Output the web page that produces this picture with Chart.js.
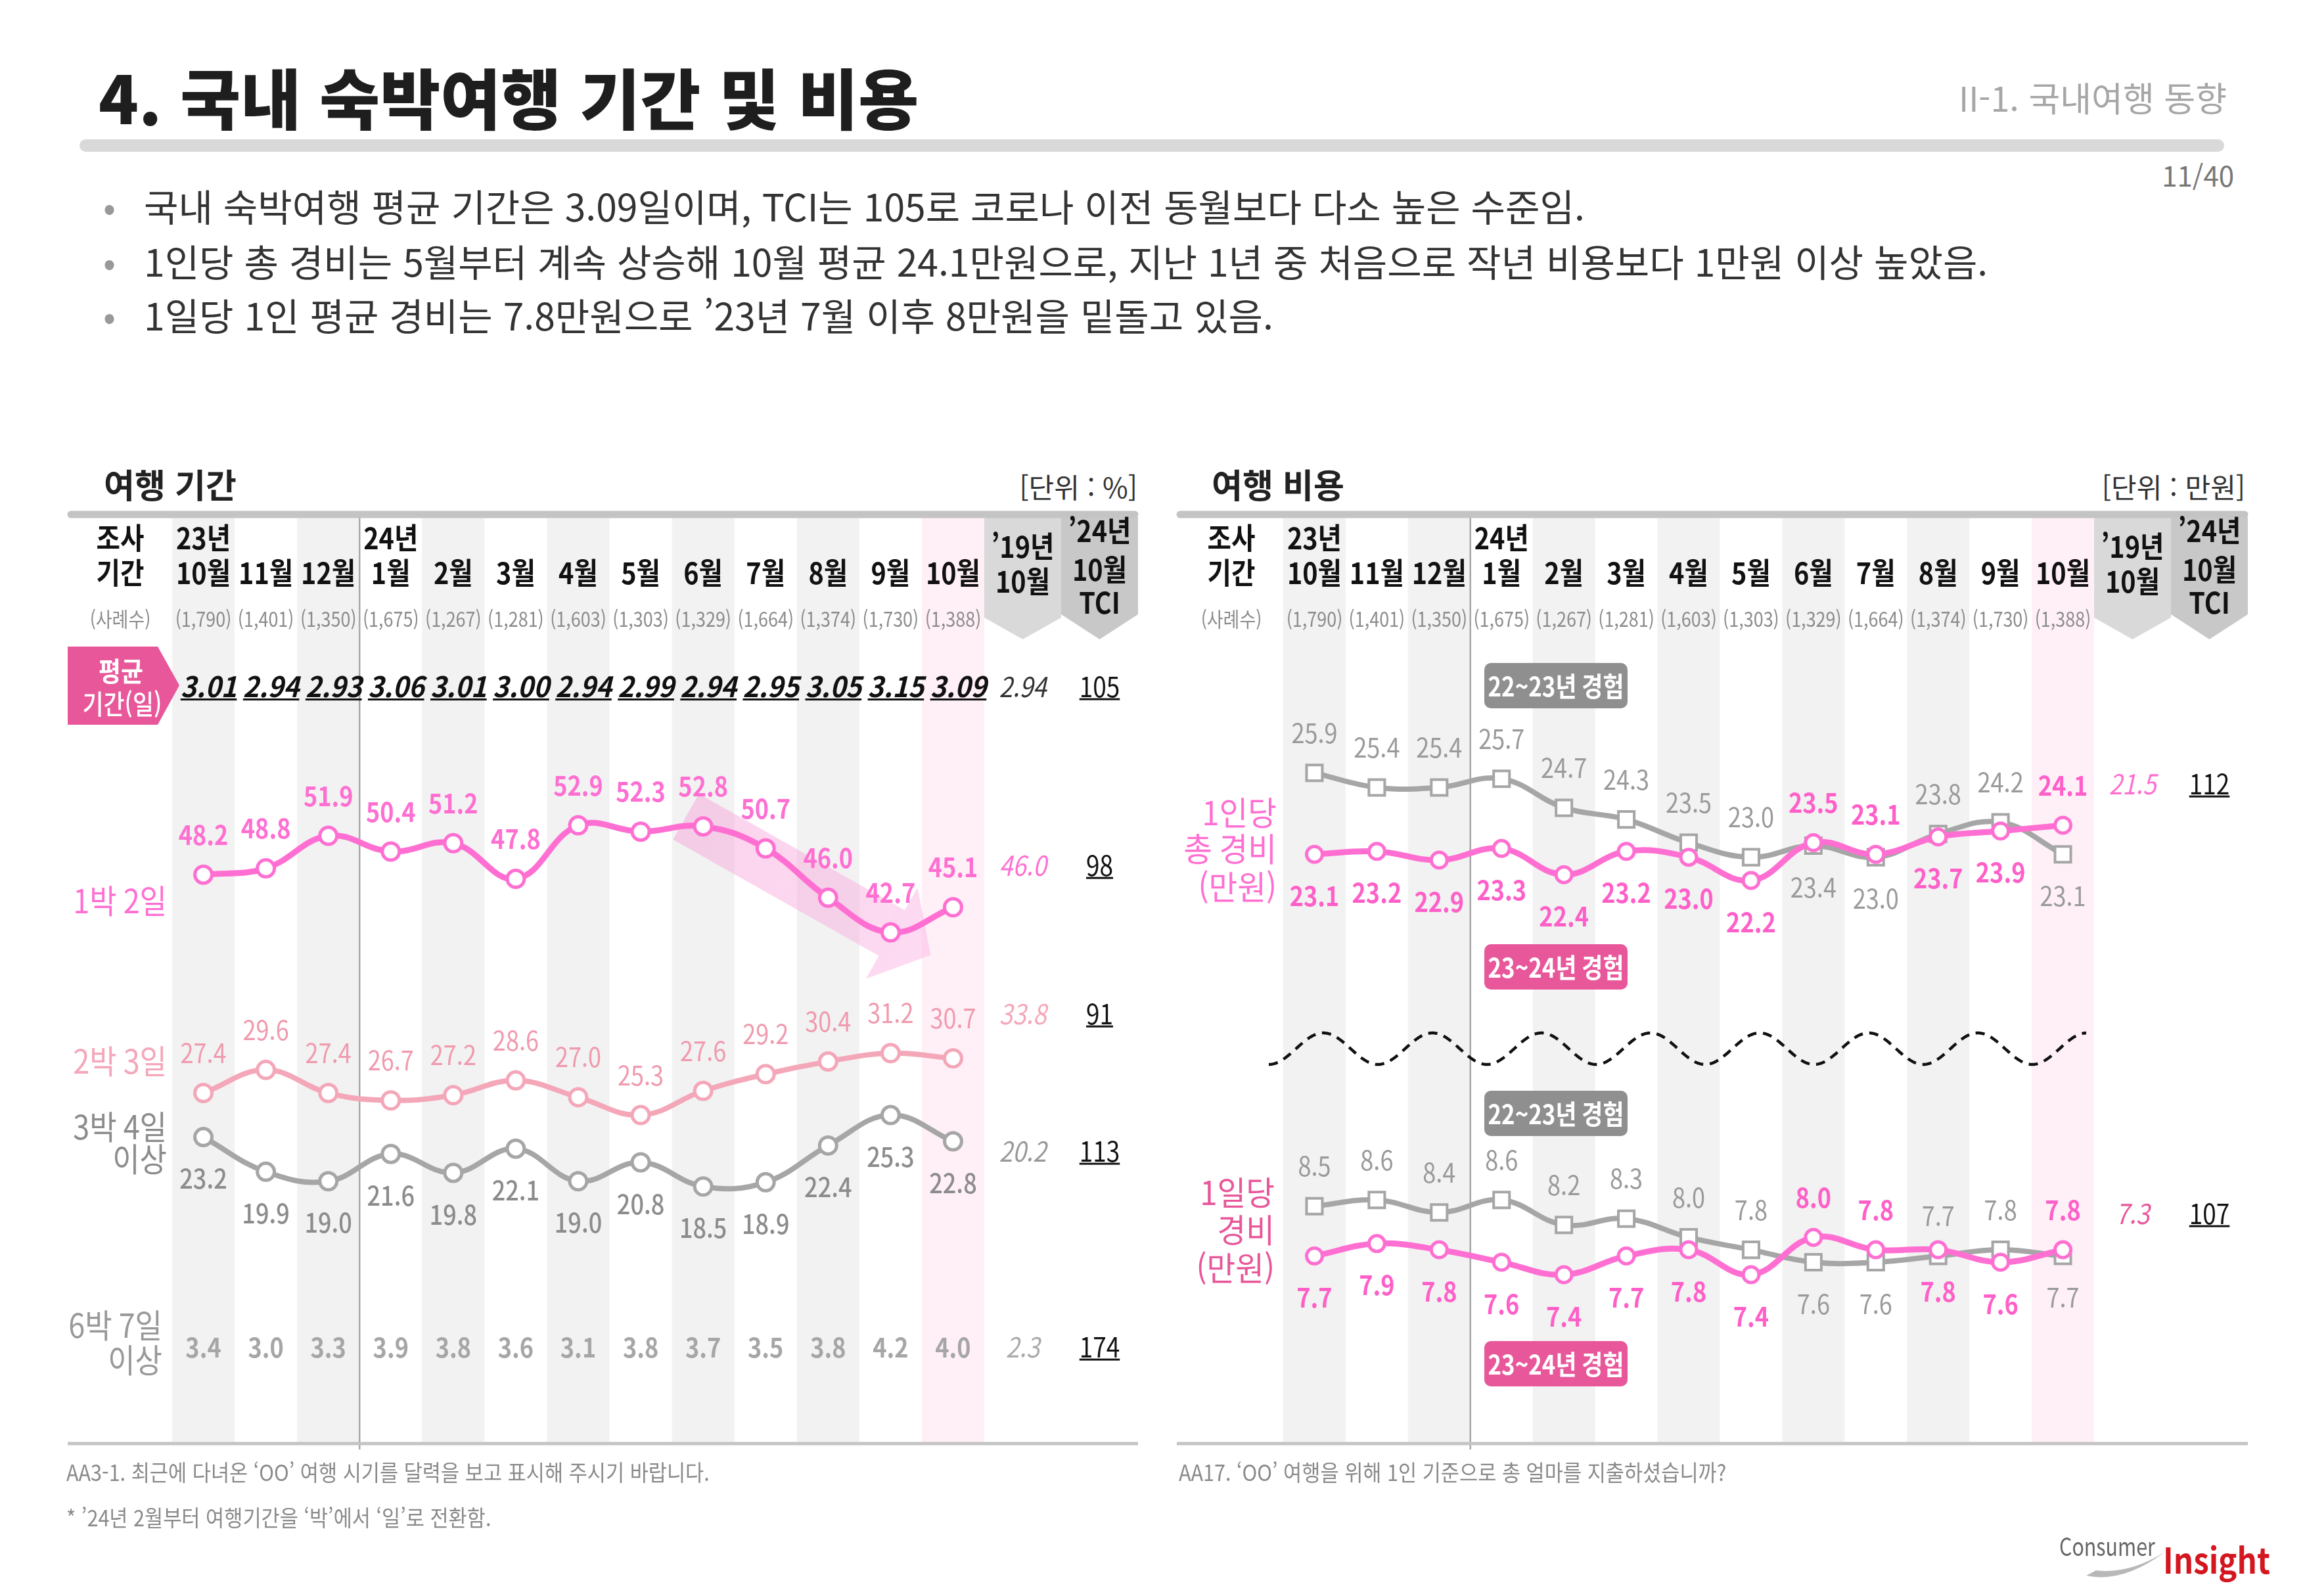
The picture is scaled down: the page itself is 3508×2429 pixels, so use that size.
<!DOCTYPE html>
<html lang="ko">
<head>
<meta charset="utf-8">
<title>국내 숙박여행 기간 및 비용</title>
<script src="https://cdn.jsdelivr.net/npm/chart.js@4.4.1/dist/chart.umd.min.js"></script>
<style>
  body { margin:0; width:3508px; height:2429px; position:relative; overflow:hidden; background:#fff;
         font-family:"Noto Sans CJK KR","Noto Sans",sans-serif; color:#222; }
  .t { position:absolute; line-height:1; white-space:nowrap; transform:translateY(-50%); }
  .fn { transform-origin:left center; transform:translateY(-50%) scaleX(0.9); color:#8a8a8a; font-size:34px; }
  canvas { position:absolute; left:0; top:0; }
</style>
</head>
<body>
<div class="t" style="left:150px;top:146px;font-size:100px;font-weight:900;color:#1e1e1e;">4. 국내 숙박여행 기간 및 비용</div>
<div class="t" style="right:119px;top:148px;font-size:52px;color:#a6a6a6;">II-1. 국내여행 동향</div>
<div style="position:absolute;left:121px;top:212px;width:3264px;height:19px;border-radius:10px;background:#d9d9d9;"></div>
<div class="t" style="right:108px;top:266px;font-size:42px;color:#777;">11/40</div>

<div class="t" style="left:157px;top:312px;font-size:56px;color:#999;">•</div>
<div class="t" style="left:219px;top:312px;font-size:57px;color:#333;">국내 숙박여행 평균 기간은 3.09일이며, TCI는 105로 코로나 이전 동월보다 다소 높은 수준임.</div>
<div class="t" style="left:157px;top:396px;font-size:56px;color:#999;">•</div>
<div class="t" style="left:219px;top:396px;font-size:57px;color:#333;">1인당 총 경비는 5월부터 계속 상승해 10월 평균 24.1만원으로, 지난 1년 중 처음으로 작년 비용보다 1만원 이상 높았음.</div>
<div class="t" style="left:157px;top:478px;font-size:56px;color:#999;">•</div>
<div class="t" style="left:219px;top:478px;font-size:57px;color:#333;">1일당 1인 평균 경비는 7.8만원으로 ’23년 7월 이후 8만원을 밑돌고 있음.</div>

<div class="t" style="left:158px;top:736px;font-size:51px;font-weight:700;">여행 기간</div>
<div class="t" style="right:1777px;top:740px;font-size:42px;color:#333;">[단위 : %]</div>
<div class="t" style="left:1844px;top:736px;font-size:51px;font-weight:700;">여행 비용</div>
<div class="t" style="right:91px;top:740px;font-size:42px;color:#333;">[단위 : 만원]</div>

<canvas id="durChart" width="3508" height="2429"></canvas>
<canvas id="costChart" width="3508" height="2429"></canvas>

<div class="t fn" style="left:101px;top:2240px;">AA3-1. 최근에 다녀온 ‘OO’ 여행 시기를 달력을 보고 표시해 주시기 바랍니다.</div>
<div class="t fn" style="left:101px;top:2309px;">* ’24년 2월부터 여행기간을 ‘박’에서 ‘일’로 전환함.</div>
<div class="t fn" style="left:1794px;top:2240px;">AA17. ‘OO’ 여행을 위해 1인 기준으로 총 얼마를 지출하셨습니까?</div>

<svg style="position:absolute;left:3170px;top:2360px;" width="130" height="50">
  <path d="M5 38 Q60 50 125 2 Q70 36 20 30 Z" fill="#b8b8b8"/>
</svg>
<div class="t" style="left:3134px;top:2352px;font-size:38px;color:#666;transform-origin:left center;transform:translateY(-50%) scaleX(0.8);">Consumer</div>
<div class="t" style="left:3292px;top:2372px;font-size:54px;font-weight:700;color:#d4161f;transform-origin:left center;transform:translateY(-50%) scaleX(0.88);">Insight</div>

<script>
// survey months (23년 10월 ~ 24년 10월)
const months = ['10월', '11월', '12월', '1월', '2월', '3월', '4월', '5월', '6월', '7월', '8월', '9월', '10월'];
const years = ['23년', '', '', '24년', '', '', '', '', '', '', '', '', ''];
const samples = ['(1,790)', '(1,401)', '(1,350)', '(1,675)', '(1,267)', '(1,281)', '(1,603)', '(1,303)', '(1,329)', '(1,664)', '(1,374)', '(1,730)', '(1,388)'];

// 여행 기간
const avgDays = [3.01, 2.94, 2.93, 3.06, 3.01, 3.00, 2.94, 2.99, 2.94, 2.95, 3.05, 3.15, 3.09];
const stay1n2d = [48.2, 48.8, 51.9, 50.4, 51.2, 47.8, 52.9, 52.3, 52.8, 50.7, 46.0, 42.7, 45.1];
const stay2n3d = [27.4, 29.6, 27.4, 26.7, 27.2, 28.6, 27.0, 25.3, 27.6, 29.2, 30.4, 31.2, 30.7];
const stay3n4d = [23.2, 19.9, 19.0, 21.6, 19.8, 22.1, 19.0, 20.8, 18.5, 18.9, 22.4, 25.3, 22.8];
const stay6n7d = [3.4, 3.0, 3.3, 3.9, 3.8, 3.6, 3.1, 3.8, 3.7, 3.5, 3.8, 4.2, 4.0];
// '19년 10월 / '24년 10월 TCI : 평균, 1박2일, 2박3일, 3박4일+, 6박7일+
const durRef19 = [2.94, 46.0, 33.8, 20.2, 2.3];
const durTci = [105, 98, 91, 113, 174];

// 여행 비용
const costTotalPrev = [25.9, 25.4, 25.4, 25.7, 24.7, 24.3, 23.5, 23.0, 23.4, 23.0, 23.8, 24.2, 23.1];
const costTotalCur = [23.1, 23.2, 22.9, 23.3, 22.4, 23.2, 23.0, 22.2, 23.5, 23.1, 23.7, 23.9, 24.1];
const costDailyPrev = [8.5, 8.6, 8.4, 8.6, 8.2, 8.3, 8.0, 7.8, 7.6, 7.6, 7.7, 7.8, 7.7];
const costDailyCur = [7.7, 7.9, 7.8, 7.6, 7.4, 7.7, 7.8, 7.4, 8.0, 7.8, 7.8, 7.6, 7.8];
// 1인당 총 경비, 1일당 경비
const costRef19 = [21.5, 7.3];
const costTci = [112, 107];

// which side the value labels sit on (a = above, b = below)
const prevSide = ['a', 'a', 'a', 'a', 'a', 'a', 'a', 'a', 'b', 'b', 'a', 'a', 'b'];
const curSide = prevSide.map(s => s === 'a' ? 'b' : 'a');

const FONT = '"Noto Sans CJK KR", "Noto Sans", sans-serif';
const PINK = '#ff6fd2', PINK_LT = '#f4a7b9', GRAY = '#a6a6a6', MAGENTA = '#e8579a';

function txt(ctx, s, x, y, o = {}) {
  ctx.save();
  ctx.font = `${o.italic ? 'italic ' : ''}${o.weight || 400} ${o.size || 40}px ${FONT}`;
  ctx.fillStyle = o.color || '#222';
  ctx.textAlign = o.align || 'center';
  ctx.textBaseline = 'middle';
  ctx.translate(x, y);
  ctx.scale(o.sx || 1, 1);
  ctx.fillText(s, 0, 0);
  if (o.underline) {
    const w = ctx.measureText(s).width;
    const x0 = o.align === 'left' ? 0 : o.align === 'right' ? -w : -w / 2;
    ctx.fillRect(x0, o.size * 0.42, w, 3);
  }
  ctx.restore();
}

function shieldBox(ctx, x0, x1, top, rectBot, tip, color) {
  ctx.fillStyle = color;
  ctx.beginPath();
  ctx.moveTo(x0, top); ctx.lineTo(x1, top); ctx.lineTo(x1, rectBot);
  ctx.lineTo((x0 + x1) / 2, tip); ctx.lineTo(x0, rectBot);
  ctx.closePath(); ctx.fill();
}

function drawPanelBack(chart, p) {
  const ctx = chart.ctx, xs = chart.scales.x, a = chart.chartArea;
  const w = xs.getPixelForValue(1) - xs.getPixelForValue(0);
  const last = months.length - 1;
  ctx.save();
  for (let i = 0; i <= last; i++) {
    const cx = xs.getPixelForValue(i);
    if (i === last) ctx.fillStyle = '#fff0f7';
    else if (i % 2 === 0) ctx.fillStyle = '#f2f2f2';
    else continue;
    ctx.fillRect(cx - w / 2, a.top, w, a.bottom - a.top);
  }
  const dx = (xs.getPixelForValue(2) + xs.getPixelForValue(3)) / 2;
  ctx.strokeStyle = '#a8a8a8'; ctx.lineWidth = 2.5;
  ctx.beginPath(); ctx.moveTo(dx, a.top); ctx.lineTo(dx, a.bottom + 9); ctx.stroke();

  const c1 = a.right + 117, c2 = a.right + 234;
  shieldBox(ctx, a.right, c1, a.top, 940, 973, '#d9d9d9');
  shieldBox(ctx, c1, c2, a.top, 935, 973, '#c8c8c8');

  ctx.lineCap = 'round'; ctx.strokeStyle = '#c4c4c4'; ctx.lineWidth = 11;
  ctx.beginPath(); ctx.moveTo(p.barLeft + 5, a.top - 4); ctx.lineTo(c2 - 5, a.top - 4); ctx.stroke();
  ctx.lineCap = 'butt'; ctx.lineWidth = 5;
  ctx.beginPath(); ctx.moveTo(p.barLeft, a.bottom); ctx.lineTo(c2, a.bottom); ctx.stroke();

  const head = { size: 45, weight: 700, sx: 0.88, color: '#111' };
  const samp = { size: 31, color: '#8c8c8c', sx: 0.87 };
  txt(ctx, '조사', p.labelX, 819, head);
  txt(ctx, '기간', p.labelX, 872, head);
  txt(ctx, '(사례수)', p.labelX, 942, samp);
  months.forEach((m, i) => {
    const cx = xs.getPixelForValue(i);
    if (years[i]) txt(ctx, years[i], cx, 819, head);
    txt(ctx, m, cx, 872, head);
    txt(ctx, samples[i], cx, 942, samp);
  });
  const m1 = (a.right + c1) / 2, m2 = (c1 + c2) / 2;
  txt(ctx, '’19년', m1, 832, head);
  txt(ctx, '10월', m1, 885, head);
  txt(ctx, '’24년', m2, 808, head);
  txt(ctx, '10월', m2, 867, head);
  txt(ctx, 'TCI', m2, 917, head);
  ctx.restore();
}

function drawPointLabels(chart) {
  const ctx = chart.ctx;
  chart.data.datasets.forEach((ds, di) => {
    const meta = chart.getDatasetMeta(di);
    meta.data.forEach((pt, i) => {
      const side = Array.isArray(ds.labelSide) ? ds.labelSide[i] : ds.labelSide;
      const y = pt.y + (side === 'a' ? -61 : 63);
      txt(ctx, ds.data[i].toFixed(1), pt.x, y,
        { size: 41, weight: ds.labelWeight, color: ds.labelColor, sx: 0.88 });
    });
  });
}

function drawRefColumns(chart, rows, ref19, tci, colors, digits) {
  const ctx = chart.ctx, a = chart.chartArea;
  const m1 = a.right + 58.5, m2 = a.right + 175.5;
  rows.forEach((y, r) => {
    txt(ctx, ref19[r].toFixed(digits[r]), m1, y, { size: 42, italic: true, color: colors[r], sx: 0.88 });
    txt(ctx, String(tci[r]), m2, y, { size: 42, color: '#111', sx: 0.88, underline: true });
  });
}

function drawTrendArrow(chart) {
  const ctx = chart.ctx;
  const pts = chart.getDatasetMeta(0).data;
  const p0 = pts[8], p1 = pts[11];
  let ux = p1.x - p0.x, uy = p1.y - p0.y;
  const L = Math.hypot(ux, uy); ux /= L; uy /= L;
  const nx = -uy, ny = ux;
  const t = { x: p0.x - ux * 30, y: p0.y - uy * 30 };
  const n = { x: p1.x + ux * 2, y: p1.y + uy * 2 };
  const tip = { x: p1.x + ux * 70, y: p1.y + uy * 70 };
  const bw = 40, hw = 80;
  ctx.save();
  const g = ctx.createLinearGradient(t.x, t.y, tip.x, tip.y);
  g.addColorStop(0, 'rgba(246,150,212,0.42)');
  g.addColorStop(1, 'rgba(250,175,225,0.45)');
  ctx.fillStyle = g;
  ctx.beginPath();
  ctx.moveTo(t.x + nx * bw, t.y + ny * bw);
  ctx.lineTo(n.x + nx * bw, n.y + ny * bw);
  ctx.lineTo(n.x + nx * hw, n.y + ny * hw);
  ctx.lineTo(tip.x, tip.y);
  ctx.lineTo(n.x - nx * hw, n.y - ny * hw);
  ctx.lineTo(n.x - nx * bw, n.y - ny * bw);
  ctx.lineTo(t.x - nx * bw, t.y - ny * bw);
  ctx.closePath(); ctx.fill();
  ctx.restore();
}

function drawDurRows(chart) {
  const ctx = chart.ctx, xs = chart.scales.x;
  // 평균 기간 tag
  ctx.save();
  ctx.fillStyle = MAGENTA;
  ctx.beginPath();
  ctx.moveTo(103, 984); ctx.lineTo(240, 984); ctx.lineTo(273, 1043);
  ctx.lineTo(240, 1103); ctx.lineTo(103, 1103); ctx.closePath(); ctx.fill();
  ctx.restore();
  txt(ctx, '평균', 184, 1021, { size: 41, weight: 700, color: '#fff', sx: 0.9 });
  txt(ctx, '기간(일)', 186, 1071, { size: 41, weight: 500, color: '#fff', sx: 0.85 });

  avgDays.forEach((v, i) => {
    txt(ctx, v.toFixed(2), xs.getPixelForValue(i) + 8, 1045,
      { size: 43, weight: 700, italic: true, color: '#111', underline: true, sx: 0.95 });
  });
  stay6n7d.forEach((v, i) => {
    txt(ctx, v.toFixed(1), xs.getPixelForValue(i), 2050, { size: 41, weight: 600, color: '#a6a6a6', sx: 0.88 });
  });
  drawRefColumns(chart, [1045, 1317, 1543, 1752, 2050], durRef19, durTci,
    ['#333', PINK, PINK_LT, '#999', '#aaa'], [2, 1, 1, 1, 1]);

  const lab = { size: 50, sx: 0.9, align: 'right' };
  txt(ctx, '1박 2일', 254, 1371, { ...lab, color: PINK });
  txt(ctx, '2박 3일', 254, 1615, { ...lab, color: PINK_LT });
  txt(ctx, '3박 4일', 254, 1715, { ...lab, color: '#8c8c8c' });
  txt(ctx, '이상', 254, 1764, { ...lab, color: '#8c8c8c' });
  txt(ctx, '6박 7일', 247, 2017, { ...lab, color: '#999' });
  txt(ctx, '이상', 247, 2070, { ...lab, color: '#999' });
}

function badge(ctx, label, x0, y0, color) {
  const w = 218, h = 69, r = 10;
  ctx.save();
  ctx.fillStyle = color;
  ctx.beginPath();
  ctx.roundRect(x0, y0, w, h, r);
  ctx.fill();
  ctx.restore();
  txt(ctx, label, x0 + w / 2, y0 + h / 2 + 1, { size: 41, weight: 700, color: '#fff', sx: 0.85 });
}

function drawCostExtras(chart) {
  const ctx = chart.ctx;
  badge(ctx, '22~23년 경험', 2259, 1009, '#8f8f8f');
  badge(ctx, '23~24년 경험', 2259, 1437, MAGENTA);
  badge(ctx, '22~23년 경험', 2259, 1660, '#8f8f8f');
  badge(ctx, '23~24년 경험', 2259, 2041, MAGENTA);

  drawRefColumns(chart, [1193, 1847], costRef19, costTci, [PINK, MAGENTA], [1, 1]);

  const lab = { size: 50, sx: 0.95, align: 'right' };
  txt(ctx, '1인당', 1943, 1237, { ...lab, color: PINK });
  txt(ctx, '총 경비', 1943, 1292, { ...lab, color: PINK });
  txt(ctx, '(만원)', 1943, 1350, { ...lab, color: PINK });
  txt(ctx, '1일당', 1940, 1815, { ...lab, color: MAGENTA });
  txt(ctx, '경비', 1940, 1872, { ...lab, color: MAGENTA });
  txt(ctx, '(만원)', 1940, 1930, { ...lab, color: MAGENTA });
}

function drawBreakWave(chart) {
  const ctx = chart.ctx;
  const x0 = 1931, x1 = 3175, cy = 1596, amp = 24, period = 166;
  ctx.save();
  ctx.strokeStyle = '#111'; ctx.lineWidth = 4.5; ctx.setLineDash([14, 10]);
  ctx.beginPath();
  for (let x = x0; x <= x1; x += 2) {
    const y = cy + amp * Math.cos(2 * Math.PI * (x - x0) / period);
    if (x === x0) ctx.moveTo(x, y); else ctx.lineTo(x, y);
  }
  ctx.stroke();
  ctx.restore();
}

function lineSet(data, color, extra) {
  return Object.assign({
    data, borderColor: color, borderWidth: 9, tension: 0.4,
    pointRadius: 13, pointBorderWidth: 5, pointBackgroundColor: '#fff', pointBorderColor: color
  }, extra);
}

const base = {
  responsive: false, devicePixelRatio: 1, animation: false, events: [],
  plugins: { legend: { display: false }, tooltip: { enabled: false } }
};

new Chart(document.getElementById('durChart'), {
  type: 'line',
  data: {
    labels: months,
    datasets: [
      lineSet(stay1n2d, PINK, { label: '1박 2일', labelSide: 'a', labelColor: PINK, labelWeight: 600 }),
      lineSet(stay2n3d, PINK_LT, { label: '2박 3일', borderWidth: 8, labelSide: 'a', labelColor: '#f09aae', labelWeight: 400 }),
      lineSet(stay3n4d, GRAY, { label: '3박 4일 이상', borderWidth: 8, labelSide: 'b', labelColor: '#8c8c8c', labelWeight: 500 })
    ]
  },
  options: Object.assign({}, base, {
    layout: { padding: { left: 262, right: 2010, top: 787, bottom: 232 } },
    scales: {
      x: { type: 'category', offset: true, display: false },
      y: { type: 'linear', min: -5.99, max: 82.26, display: false }
    }
  }),
  plugins: [{
    id: 'durPanel',
    beforeDatasetsDraw(chart) {
      drawPanelBack(chart, { barLeft: 103, labelX: 183 });
      drawTrendArrow(chart);
    },
    afterDatasetsDraw(chart) {
      drawPointLabels(chart);
      drawDurRows(chart);
    }
  }]
});

new Chart(document.getElementById('costChart'), {
  type: 'line',
  data: {
    labels: months,
    datasets: [
      lineSet(costTotalCur, PINK, { label: '1인당 총 경비 23~24년', yAxisID: 'yT', order: 0,
        pointRadius: 12, labelSide: curSide, labelColor: '#ff5fc8', labelWeight: 700 }),
      lineSet(costTotalPrev, GRAY, { label: '1인당 총 경비 22~23년', yAxisID: 'yT', order: 1, borderWidth: 8,
        pointStyle: 'rect', pointRadius: 17, pointBorderWidth: 4, labelSide: prevSide, labelColor: '#9a9a9a', labelWeight: 400 }),
      lineSet(costDailyCur, PINK, { label: '1일당 경비 23~24년', yAxisID: 'yD', order: 0,
        pointRadius: 12, labelSide: curSide, labelColor: '#ff5fc8', labelWeight: 700 }),
      lineSet(costDailyPrev, GRAY, { label: '1일당 경비 22~23년', yAxisID: 'yD', order: 1, borderWidth: 8,
        pointStyle: 'rect', pointRadius: 17, pointBorderWidth: 4, labelSide: prevSide, labelColor: '#9a9a9a', labelWeight: 400 })
    ]
  },
  options: Object.assign({}, base, {
    layout: { padding: { left: 1953, right: 321, top: 787, bottom: 232 } },
    scales: {
      x: { type: 'category', offset: true, display: false },
      yT: { type: 'linear', min: 2.83, max: 34.70, display: false },
      yD: { type: 'linear', min: 4.69, max: 19.56, display: false }
    }
  }),
  plugins: [{
    id: 'costPanel',
    beforeDatasetsDraw(chart) {
      drawPanelBack(chart, { barLeft: 1791, labelX: 1874 });
      drawBreakWave(chart);
    },
    afterDatasetsDraw(chart) {
      drawPointLabels(chart);
      drawCostExtras(chart);
    }
  }]
});
</script>
</body>
</html>
